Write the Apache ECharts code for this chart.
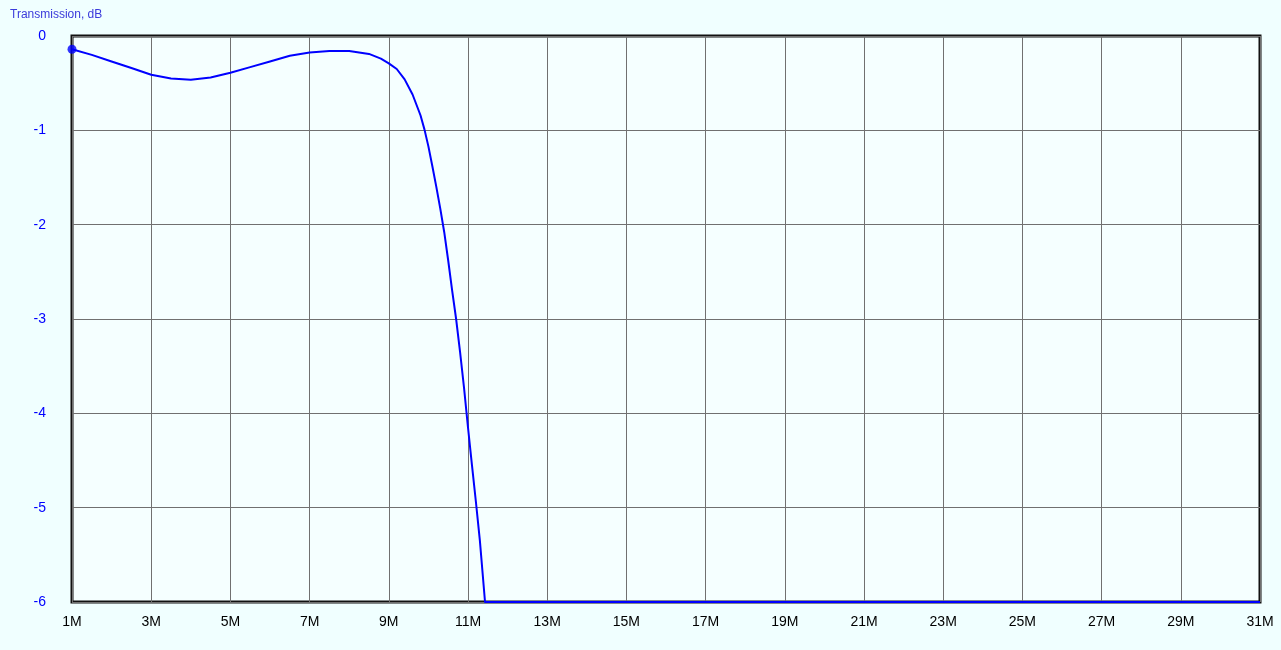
<!DOCTYPE html>
<html><head><meta charset="utf-8">
<script src="https://cdn.jsdelivr.net/npm/echarts@6/dist/echarts.min.js"></script>
<style>html,body{margin:0;padding:0;background:#F0FFFF;}#c{width:1281px;height:650px;}</style>
</head><body><div id="c"></div>
<script>
const title = 'Transmission, dB';
const freqMHz = [1.0,1.5,2.0,2.5,3.0,3.5,4.0,4.5,5.0,5.5,6.0,6.5,7.0,7.5,8.0,8.5,8.8,9.0,9.2,9.4,9.6,9.8,9.9,10.0,10.1,10.2,10.3,10.4,10.5,10.6,10.7,10.8,10.9,11.0,11.1,11.2,11.3,11.43,11.6,12,15,20,25,31];
const transDB = [-0.14,-0.20,-0.27,-0.34,-0.41,-0.45,-0.465,-0.44,-0.39,-0.33,-0.27,-0.21,-0.175,-0.16,-0.16,-0.19,-0.24,-0.29,-0.35,-0.46,-0.62,-0.84,-0.99,-1.17,-1.38,-1.6,-1.83,-2.08,-2.38,-2.7,-3.0,-3.35,-3.73,-4.15,-4.55,-4.94,-5.35,-6.0,-6.0,-6.0,-6.0,-6.0,-6.0,-6.0];
const xMin = 1, xMax = 31, xStep = 2;
const yMin = -6, yMax = 0, yStep = 1;

const pts = freqMHz.map((f,i)=>[f - xMin, transDB[i]]);
const chart = echarts.init(document.getElementById('c'));
chart.setOption({
  backgroundColor:'#F0FFFF',
  animation:false,
  title:{text:title,left:5,top:4,textStyle:{fontFamily:'Liberation Sans, Arial',fontSize:12,fontWeight:'normal',color:'#3B3BDB'}},
  grid:{left:72,top:36,right:21,bottom:48,show:true,borderColor:'#111',borderWidth:3,backgroundColor:'#F5FFFF'},
  xAxis:{type:'value',min:0,max:xMax-xMin,interval:xStep,
    axisLine:{show:false},axisTick:{show:false},
    axisLabel:{formatter:v=>(v+xMin)+'M',color:'#000',fontFamily:'Liberation Sans, Arial',fontSize:14,margin:13},
    splitLine:{show:true,lineStyle:{color:'#707070',width:1}}},
  yAxis:{type:'value',min:yMin,max:yMax,interval:yStep,
    axisLine:{show:false},axisTick:{show:false},
    axisLabel:{color:'#0000FF',fontFamily:'Liberation Sans, Arial',fontSize:14,margin:26},
    splitLine:{show:true,lineStyle:{color:'#707070',width:1}}},
  series:[
    {type:'line',data:pts,symbol:'none',smooth:false,lineStyle:{color:'#0000FF',width:2,join:'round'},z:5},
    {type:'scatter',data:[pts[0]],symbolSize:9,itemStyle:{color:'#0000FF'},z:6}
  ]
});
</script></body></html>
